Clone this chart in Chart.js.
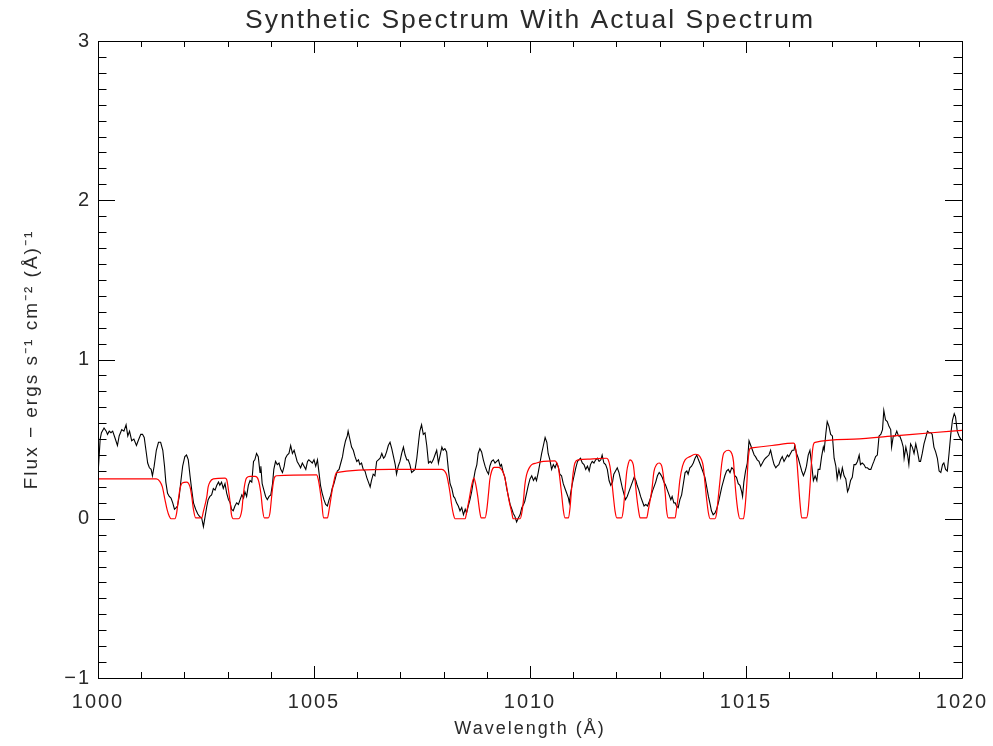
<!DOCTYPE html>
<html>
<head>
<meta charset="utf-8">
<title>Synthetic Spectrum With Actual Spectrum</title>
<script src="https://cdn.jsdelivr.net/npm/chart.js@4.4.0/dist/chart.umd.min.js"></script>
<style>
  html, body { margin: 0; padding: 0; background: #ffffff; }
  canvas { display: block; }
</style>
</head>
<body>
<canvas id="chart" width="993" height="746"></canvas>
<script>
// actual (observed) spectrum - black
const obsWave = [
  1000.01,1000.05,1000.08,1000.14,1000.19,1000.22,1000.26,1000.30,1000.34,1000.39,
  1000.45,1000.49,1000.55,1000.60,1000.65,1000.69,1000.73,1000.78,1000.83,1000.89,
  1000.93,1000.99,1001.03,1001.07,1001.11,1001.15,1001.19,1001.23,1001.26,1001.30,
  1001.35,1001.40,1001.45,1001.50,1001.54,1001.57,1001.61,1001.65,1001.69,1001.73,
  1001.77,1001.81,1001.84,1001.88,1001.92,1001.96,1002.01,1002.05,1002.09,1002.13,
  1002.17,1002.21,1002.26,1002.31,1002.35,1002.40,1002.44,1002.48,1002.52,1002.55,
  1002.59,1002.63,1002.67,1002.71,1002.75,1002.79,1002.82,1002.86,1002.90,1002.94,
  1002.98,1003.02,1003.06,1003.09,1003.13,1003.17,1003.21,1003.25,
  1003.29,1003.33,1003.37,1003.40,1003.44,1003.48,1003.52,1003.56,1003.60,1003.63,
  1003.67,1003.71,1003.75,1003.77,1003.80,1003.84,1003.88,1003.92,1003.96,1004.00,
  1004.04,1004.07,1004.11,1004.15,1004.19,1004.23,1004.27,1004.31,1004.34,1004.38,
  1004.42,1004.46,1004.50,1004.54,1004.58,1004.61,1004.65,1004.69,1004.73,1004.77,
  1004.81,1004.85,1004.88,1004.92,1004.96,1005.00,1005.04,1005.08,1005.12,1005.15,
  1005.19,1005.23,1005.27,1005.31,1005.35,1005.39,1005.42,1005.46,1005.50,1005.54,
  1005.58,1005.62,1005.66,1005.69,1005.73,1005.77,1005.79,1005.83,1005.87,1005.91,
  1005.95,1005.99,1006.03,1006.06,1006.10,1006.14,1006.18,1006.22,1006.26,1006.30,
  1006.33,1006.37,1006.41,1006.45,1006.49,1006.53,1006.57,1006.61,
  1006.64,1006.68,1006.72,1006.76,1006.80,1006.84,1006.88,1006.91,1006.95,1006.99,
  1007.03,1007.07,1007.11,1007.15,1007.18,1007.22,1007.26,1007.30,1007.34,1007.38,
  1007.42,1007.45,1007.49,1007.53,1007.57,1007.61,1007.65,1007.69,1007.72,1007.76,
  1007.80,1007.84,1007.88,1007.92,1007.96,1007.99,1008.03,1008.07,1008.11,1008.15,
  1008.19,1008.23,1008.26,1008.30,1008.34,1008.38,1008.42,1008.46,1008.50,1008.53,
  1008.57,1008.61,1008.65,1008.69,1008.73,1008.77,1008.80,1008.84,1008.88,1008.92,
  1008.96,1009.00,1009.04,1009.07,1009.11,1009.15,1009.19,1009.23,1009.27,1009.31,
  1009.34,1009.38,1009.42,1009.46,1009.50,1009.54,1009.58,1009.61,1009.65,1009.69,
  1009.73,1009.77,1009.81,1009.85,1009.88,1009.92,1009.96,
  1010.00,1010.04,1010.08,1010.12,1010.15,1010.19,1010.23,1010.27,1010.31,1010.35,
  1010.39,1010.42,1010.46,1010.50,1010.54,1010.58,1010.62,1010.66,1010.69,1010.73,
  1010.77,1010.81,1010.85,1010.89,1010.91,1010.94,1010.98,1011.02,1011.06,1011.10,
  1011.13,1011.17,1011.21,1011.25,1011.29,1011.33,1011.37,1011.40,1011.44,1011.48,
  1011.52,1011.56,1011.60,1011.64,1011.67,1011.71,1011.75,1011.79,1011.83,1011.87,
  1011.91,1011.94,1011.98,1012.02,1012.06,1012.10,1012.14,1012.18,1012.21,1012.25,
  1012.29,1012.33,1012.37,1012.41,1012.45,1012.48,1012.52,1012.56,1012.60,1012.64,
  1012.68,1012.72,1012.75,1012.79,1012.83,1012.87,1012.91,1012.95,1012.99,1013.02,
  1013.06,1013.10,1013.14,1013.18,1013.22,1013.26,1013.29,1013.33,
  1013.36,1013.39,1013.43,1013.47,1013.51,1013.55,1013.59,1013.63,1013.66,1013.70,
  1013.74,1013.78,1013.82,1013.86,1013.90,1013.93,1013.97,1014.01,1014.05,1014.09,
  1014.13,1014.17,1014.20,1014.24,1014.28,1014.32,1014.36,1014.40,1014.44,1014.47,
  1014.51,1014.55,1014.59,1014.63,1014.67,1014.71,1014.74,1014.78,1014.82,1014.86,
  1014.90,1014.92,1014.95,1014.99,1015.03,1015.07,1015.11,1015.15,1015.19,1015.22,
  1015.26,1015.30,1015.34,1015.38,1015.42,1015.45,1015.49,1015.53,1015.57,1015.61,
  1015.65,1015.69,1015.72,1015.76,1015.80,1015.84,1015.88,1015.92,1015.96,1015.99,
  1016.03,1016.07,1016.11,1016.13,1016.17,1016.21,1016.25,1016.29,1016.33,1016.37,
  1016.40,1016.44,1016.48,1016.52,1016.56,1016.60,1016.64,1016.67,
  1016.71,1016.75,1016.79,1016.81,1016.85,1016.88,1016.92,1016.96,1017.00,1017.04,
  1017.08,1017.11,1017.15,1017.19,1017.23,1017.27,1017.31,1017.35,1017.38,1017.42,
  1017.46,1017.50,1017.54,1017.58,1017.62,1017.65,1017.69,1017.73,1017.77,1017.81,
  1017.85,1017.89,1017.93,1017.96,1018.00,1018.04,1018.08,1018.12,1018.16,1018.19,
  1018.23,1018.27,1018.31,1018.35,1018.37,1018.41,1018.45,1018.49,1018.53,1018.56,
  1018.60,1018.64,1018.66,1018.70,1018.74,1018.77,1018.81,1018.85,1018.89,1018.93,
  1018.97,1019.01,1019.04,1019.08,1019.12,1019.16,1019.20,1019.24,1019.28,1019.31,
  1019.35,1019.39,1019.43,1019.47,1019.51,1019.55,1019.58,1019.62,1019.66,1019.70,
  1019.74,1019.78,1019.82,1019.85,1019.89,1019.93,1019.97,1020.00
];
const obsFlux = [
  0.32,0.50,0.54,0.57,0.55,0.53,0.55,0.54,0.55,0.51,
  0.46,0.52,0.56,0.55,0.59,0.52,0.55,0.49,0.50,0.46,
  0.49,0.53,0.53,0.51,0.43,0.35,0.32,0.31,0.27,0.33,
  0.43,0.48,0.48,0.43,0.33,0.23,0.16,0.14,0.13,0.10,
  0.06,0.07,0.08,0.14,0.24,0.33,0.39,0.40,0.37,0.27,
  0.18,0.10,0.06,0.03,0.015,0.005,-0.05,0.015,0.08,0.12,
  0.14,0.15,0.19,0.18,0.21,0.23,0.21,0.23,0.19,0.22,
  0.16,0.12,0.10,0.06,0.05,0.08,0.10,0.09,
  0.12,0.15,0.13,0.17,0.14,0.21,0.24,0.23,0.36,0.37,
  0.41,0.39,0.29,0.33,0.22,0.18,0.14,0.12,0.14,0.15,
  0.22,0.31,0.36,0.34,0.35,0.31,0.29,0.33,0.38,0.40,
  0.41,0.46,0.41,0.43,0.39,0.36,0.34,0.32,0.35,0.33,
  0.31,0.36,0.37,0.36,0.35,0.37,0.33,0.37,0.28,0.21,
  0.16,0.12,0.09,0.08,0.12,0.15,0.19,0.22,0.26,0.30,
  0.31,0.35,0.39,0.44,0.49,0.52,0.55,0.50,0.45,0.43,
  0.39,0.36,0.37,0.34,0.35,0.31,0.30,0.26,0.23,0.20,
  0.24,0.28,0.27,0.36,0.37,0.38,0.41,0.38,
  0.39,0.42,0.46,0.48,0.44,0.39,0.34,0.28,0.33,0.36,
  0.41,0.45,0.40,0.37,0.37,0.34,0.29,0.30,0.31,0.38,
  0.48,0.55,0.59,0.53,0.54,0.46,0.35,0.36,0.35,0.37,
  0.40,0.43,0.35,0.40,0.45,0.43,0.44,0.42,0.31,0.22,
  0.19,0.14,0.13,0.10,0.08,0.05,0.07,0.025,0.06,0.035,
  0.08,0.12,0.17,0.24,0.30,0.34,0.41,0.44,0.42,0.37,
  0.33,0.30,0.28,0.33,0.36,0.37,0.35,0.36,0.37,0.33,
  0.34,0.29,0.26,0.19,0.14,0.09,0.06,0.035,0.015,-0.02,
  0.005,0.025,0.07,0.09,0.11,0.16,0.21,
  0.25,0.27,0.24,0.26,0.24,0.29,0.35,0.41,0.46,0.51,
  0.48,0.41,0.37,0.31,0.34,0.32,0.35,0.32,0.28,0.27,
  0.22,0.19,0.16,0.13,0.10,0.16,0.22,0.27,0.32,0.36,
  0.37,0.38,0.35,0.34,0.31,0.33,0.30,0.34,0.36,0.35,
  0.37,0.38,0.36,0.37,0.40,0.35,0.34,0.31,0.24,0.21,
  0.23,0.28,0.30,0.32,0.29,0.24,0.19,0.15,0.12,0.14,
  0.17,0.20,0.23,0.26,0.24,0.21,0.18,0.14,0.11,0.08,
  0.09,0.08,0.10,0.13,0.17,0.20,0.23,0.27,0.29,0.28,
  0.26,0.23,0.21,0.18,0.15,0.12,0.14,0.10,
  0.10,0.08,0.07,0.12,0.15,0.22,0.29,0.30,0.28,0.32,
  0.33,0.35,0.38,0.40,0.37,0.35,0.32,0.29,0.26,0.20,
  0.14,0.09,0.05,0.025,0.035,0.06,0.10,0.15,0.20,0.23,
  0.27,0.30,0.31,0.29,0.32,0.31,0.27,0.26,0.22,0.21,
  0.17,0.14,0.23,0.30,0.35,0.49,0.46,0.43,0.40,0.39,
  0.37,0.36,0.33,0.35,0.37,0.38,0.39,0.40,0.43,0.38,
  0.34,0.32,0.33,0.34,0.37,0.39,0.36,0.38,0.40,0.39,
  0.41,0.43,0.43,0.46,0.41,0.38,0.34,0.30,0.27,0.30,
  0.33,0.40,0.43,0.34,0.24,0.27,0.24,0.31,
  0.31,0.39,0.45,0.43,0.54,0.61,0.58,0.53,0.52,0.38,
  0.33,0.25,0.31,0.26,0.32,0.27,0.25,0.17,0.19,0.24,
  0.26,0.34,0.34,0.36,0.40,0.34,0.35,0.34,0.32,0.32,
  0.31,0.31,0.34,0.36,0.39,0.40,0.52,0.53,0.56,0.68,
  0.62,0.61,0.58,0.56,0.45,0.52,0.52,0.55,0.52,0.52,
  0.49,0.45,0.38,0.45,0.40,0.34,0.47,0.45,0.41,0.47,
  0.42,0.36,0.36,0.41,0.47,0.51,0.55,0.54,0.54,0.53,
  0.45,0.42,0.38,0.30,0.29,0.34,0.35,0.31,0.30,0.41,
  0.53,0.62,0.66,0.64,0.55,0.52,0.50,0.49
];

// synthetic spectrum - red
const synWave = [
  1000.00,1001.35,1001.43,1001.49,1001.55,1001.60,1001.65,1001.69,1001.78,1001.82,
  1001.86,1001.90,1001.95,1002.05,1002.13,1002.17,1002.21,1002.26,1002.40,1002.44,
  1002.52,1002.55,1002.59,1002.67,1002.94,1002.98,1003.02,1003.06,1003.09,1003.13,
  1003.25,1003.33,1003.36,1003.40,1003.44,1003.52,1003.64,1003.71,1003.77,1003.81,
  1003.85,1003.94,1003.98,1004.02,1004.06,1004.10,1004.14,1005.06,1005.10,1005.14,
  1005.18,1005.22,1005.31,1005.35,1005.41,1005.46,1005.52,1006.76,1007.96,1008.03,
  1008.07,1008.11,1008.15,1008.19,1008.23,1008.26,1008.50,1008.53,1008.59,1008.65,
  1008.70,1008.74,1008.79,1008.83,1008.87,1008.96,1009.00,1009.04,1009.07,1009.11,
  1009.17,1009.27,1009.34,1009.40,1009.46,1009.51,1009.58,1009.61,1009.77,1009.81,
  1009.85,1009.88,1009.92,1009.98,1010.04,1010.15,1010.31,1010.58,1010.62,1010.66,
  1010.69,1010.73,1010.77,1010.81,1010.89,1010.93,1010.96,1011.00,1011.04,1011.12,
  1011.39,1011.77,1011.81,1011.85,1011.89,1011.93,1011.97,1012.01,1012.12,1012.16,
  1012.20,1012.24,1012.28,1012.31,1012.39,1012.43,1012.47,1012.51,1012.55,1012.70,
  1012.74,1012.82,1012.87,1012.93,1012.99,1013.05,1013.09,1013.13,1013.16,1013.20,
  1013.36,1013.39,1013.43,1013.47,1013.53,1013.59,1013.70,1013.82,1013.90,1013.97,
  1014.01,1014.05,1014.09,1014.13,1014.17,1014.28,1014.32,1014.36,1014.40,1014.44,
  1014.47,1014.51,1014.59,1014.67,1014.71,1014.74,1014.78,1014.82,1014.86,1014.94,
  1014.98,1015.02,1015.05,1015.09,1015.13,1015.60,1016.10,1016.13,1016.17,1016.21,
  1016.25,1016.29,1016.40,1016.44,1016.48,1016.52,1016.56,1016.60,1017.50,1018.50,
  1019.30,1020.00
];
const synFlux = [
  0.25,0.25,0.235,0.20,0.12,0.057,0.015,0.0,0.0,0.035,
  0.12,0.19,0.225,0.23,0.20,0.14,0.057,0.005,0.005,0.046,
  0.14,0.20,0.23,0.25,0.255,0.245,0.18,0.10,0.025,0.0,
  0.0,0.056,0.14,0.22,0.257,0.266,0.266,0.245,0.16,0.057,
  0.005,0.005,0.036,0.14,0.23,0.266,0.27,0.276,0.245,0.18,
  0.10,0.005,0.005,0.057,0.16,0.235,0.29,0.31,0.31,0.297,
  0.276,0.225,0.16,0.08,0.025,0.0,0.0,0.036,0.12,0.21,
  0.255,0.22,0.14,0.057,0.005,0.005,0.057,0.16,0.245,0.297,
  0.322,0.322,0.31,0.276,0.20,0.12,0.036,0.0,0.0,0.036,
  0.12,0.21,0.276,0.318,0.34,0.35,0.36,0.364,0.35,0.318,
  0.255,0.16,0.057,0.005,0.005,0.078,0.18,0.29,0.35,0.37,
  0.375,0.38,0.37,0.33,0.245,0.14,0.046,0.005,0.005,0.057,
  0.18,0.297,0.35,0.37,0.34,0.245,0.14,0.057,0.005,0.005,
  0.057,0.18,0.297,0.34,0.35,0.33,0.265,0.16,0.057,0.005,
  0.005,0.057,0.14,0.245,0.33,0.37,0.39,0.405,0.40,0.37,
  0.33,0.225,0.12,0.036,0.0,0.0,0.036,0.14,0.245,0.35,
  0.40,0.42,0.43,0.41,0.36,0.245,0.12,0.036,0.0,0.0,
  0.078,0.225,0.37,0.44,0.445,0.46,0.475,0.465,0.39,0.245,
  0.10,0.005,0.005,0.057,0.20,0.37,0.465,0.48,0.50,0.522,
  0.54,0.555
];

// axis labels (major ticks) and minor tick steps
const xTickLabels = [1000, 1005, 1010, 1015, 1020];
const yTickLabels = [-1, 0, 1, 2, 3];
const xMinorStep = 1;
const yMinorStep = 0.1;

const textFont = "'Liberation Sans', Arial, sans-serif";
const textColor = '#2a2a2a';

// wide, thin letters like the old vector fonts
const wideText = {
  id: 'wideText',
  beforeDraw(chart) {
    chart.ctx.letterSpacing = '2px';
  }
};

// box round the plot with inward ticks on all four sides
const frameTicks = {
  id: 'frameTicks',
  afterDatasetsDraw(chart) {
    const { ctx, chartArea: a, scales: { x, y } } = chart;
    const isMajor = (list, v) => list.some(t => Math.abs(t - v) < 1e-6);
    ctx.save();
    ctx.strokeStyle = '#000';
    ctx.lineWidth = 1;
    ctx.beginPath();
    ctx.rect(a.left + 0.5, a.top + 0.5, a.right - a.left, a.bottom - a.top);

    const nx = Math.round((x.max - x.min) / xMinorStep);
    for (let i = 0; i <= nx; i++) {
      const v = x.min + i * xMinorStep;
      const px = Math.round(x.getPixelForValue(v)) + 0.5;
      const len = isMajor(xTickLabels, v) ? 12 : 6;
      ctx.moveTo(px, a.bottom);
      ctx.lineTo(px, a.bottom - len);
      ctx.moveTo(px, a.top);
      ctx.lineTo(px, a.top + len);
    }
    const ny = Math.round((y.max - y.min) / yMinorStep);
    for (let i = 0; i <= ny; i++) {
      const v = y.min + i * yMinorStep;
      const py = Math.round(y.getPixelForValue(v)) + 0.5;
      const len = isMajor(yTickLabels, v) ? 17 : 8.5;
      ctx.moveTo(a.left, py);
      ctx.lineTo(a.left + len, py);
      ctx.moveTo(a.right, py);
      ctx.lineTo(a.right - len, py);
    }
    ctx.stroke();
    ctx.restore();
  }
};

new Chart(document.getElementById('chart'), {
  type: 'line',
  data: {
    datasets: [
      {
        label: 'Synthetic',
        data: synWave.map((w, i) => ({ x: w, y: synFlux[i] })),
        borderColor: '#ff0000',
        borderWidth: 1.2,
        pointRadius: 0,
        cubicInterpolationMode: 'monotone',
        order: 0
      },
      {
        label: 'Actual',
        data: obsWave.map((w, i) => ({ x: w, y: obsFlux[i] })),
        borderColor: '#000000',
        borderWidth: 1.1,
        pointRadius: 0,
        tension: 0,
        order: 1
      }
    ]
  },
  options: {
    responsive: false,
    animation: false,
    layout: { padding: { left: 0, right: 31, top: 0, bottom: 0 } },
    plugins: {
      legend: { display: false },
      tooltip: { enabled: false },
      title: {
        display: true,
        fullSize: false,
        text: 'Synthetic Spectrum With Actual Spectrum',
        color: textColor,
        font: { family: textFont, size: 26.5, weight: 'normal' },
        padding: { top: 5, bottom: 4.2 }
      }
    },
    scales: {
      x: {
        type: 'linear',
        min: 1000,
        max: 1020,
        afterBuildTicks: s => { s.ticks = xTickLabels.map(v => ({ value: v })); },
        afterFit: s => { s.height = 68; s.paddingLeft = 0; s.paddingRight = 0; },
        grid: { display: false, drawTicks: false },
        border: { display: false },
        ticks: {
          padding: 12,
          color: textColor,
          maxRotation: 0,
          autoSkip: false,
          font: { family: textFont, size: 20 },
          callback: v => String(v)
        },
        title: {
          display: true,
          text: 'Wavelength (Å)',
          color: textColor,
          font: { family: textFont, size: 18 },
          padding: { top: 0, bottom: 6 }
        }
      },
      y: {
        type: 'linear',
        min: -1,
        max: 3,
        afterBuildTicks: s => { s.ticks = yTickLabels.map(v => ({ value: v })); },
        afterFit: s => { s.width = 98; },
        grid: { display: false, drawTicks: false },
        border: { display: false },
        ticks: {
          padding: 7,
          color: textColor,
          font: { family: textFont, size: 20 },
          callback: v => (v < 0 ? '\u2212' + Math.abs(v) : String(v))
        },
        title: {
          display: true,
          text: 'Flux \u2212 ergs s\u207B\u00B9 cm\u207B\u00B2 (Å)\u207B\u00B9',
          color: textColor,
          font: { family: textFont, size: 19 },
          padding: { top: 20, bottom: 0 }
        }
      }
    }
  },
  plugins: [wideText, frameTicks]
});
</script>
</body>
</html>
